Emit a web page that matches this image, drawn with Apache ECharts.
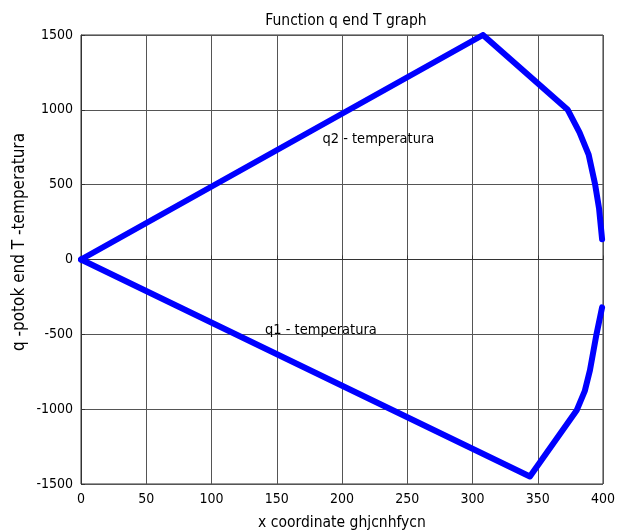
<!DOCTYPE html>
<html>
<head>
<meta charset="utf-8">
<script src="https://cdn.jsdelivr.net/npm/echarts@6/dist/echarts.min.js"></script>
<style>html,body{margin:0;padding:0;background:#fff;}#c{width:628px;height:531px;}</style>
</head>
<body>
<div id="c"></div>
<script>
// Data
var q2X = [0, 308, 373, 382, 389, 394, 397, 399.3];
var q2Y = [0, 1500, 1000, 850, 700, 500, 340, 135];
var q1X = [0, 344, 380, 386, 390, 395, 399.3];
var q1Y = [0, -1450, -1005, -880, -740, -500, -320];
var xTicks = [0, 50, 100, 150, 200, 250, 300, 350, 400];
var yTicks = [-1500, -1000, -500, 0, 500, 1000, 1500];
var noteText = ['q2 - temperatura', 'q1 - temperatura'];
var noteX = [185, 141];
var noteY = [805, -473];

function pairs(xs, ys) { return xs.map(function (x, i) { return [x, ys[i]]; }); }

var narrow = '"Liberation Sans Narrow", "Arial Narrow", "DejaVu Sans Condensed", sans-serif';
var chart = echarts.init(document.getElementById('c'), null, {renderer: 'canvas'});
chart.setOption({
  animation: false,
  backgroundColor: '#fff',
  title: {
    text: 'Function q end T graph', left: 341, top: 8, textAlign: 'center',
    textStyle: {fontFamily: narrow, fontSize: 15.5, fontWeight: 'normal', color: '#000'}
  },
  grid: {left: 81, right: 25, top: 35, bottom: 47, show: true, borderColor: '#333', borderWidth: 1,
    containLabel: false, outerBoundsMode: 'none'},
  xAxis: {
    type: 'value', min: xTicks[0], max: xTicks[xTicks.length - 1], interval: 50,
    name: 'x coordinate ghjcnhfycn', nameLocation: 'middle', nameGap: 31,
    nameTextStyle: {fontFamily: narrow, fontSize: 15.5, color: '#000'},
    axisLine: {show: true, lineStyle: {color: '#333'}},
    axisTick: {show: true, inside: true, length: 4, lineStyle: {color: '#333'}},
    axisLabel: {fontFamily: narrow, fontSize: 14, color: '#000', margin: 8},
    splitLine: {show: true, lineStyle: {color: '#555', width: 1}}
  },
  yAxis: {
    type: 'value', min: yTicks[0], max: yTicks[yTicks.length - 1], interval: 500,
    axisLine: {show: true, lineStyle: {color: '#333'}},
    axisTick: {show: true, inside: true, length: 4, lineStyle: {color: '#333'}},
    axisLabel: {fontFamily: narrow, fontSize: 14, color: '#000', margin: 8,
      formatter: function (v) { return String(v); }},
    splitLine: {show: true, lineStyle: {color: '#555', width: 1}}
  },
  series: [
    {type: 'line', data: pairs(q2X, q2Y), symbol: 'none', lineStyle: {color: '#0000ff', width: 6, join: 'round', cap: 'round'}, z: 3},
    {type: 'line', data: pairs(q1X, q1Y), symbol: 'none', lineStyle: {color: '#0000ff', width: 6, join: 'round', cap: 'round'}, z: 3}
  ]
});
var g = [{
  type: 'text', left: 11, top: 133, rotation: Math.PI / 2,
  style: {text: 'q -potok end T -temperatura', font: '17px ' + narrow, fill: '#000'}
}];
noteText.forEach(function (t, i) {
  var p = chart.convertToPixel({gridIndex: 0}, [noteX[i], noteY[i]]);
  g.push({type: 'text', x: p[0], y: p[1], z: 10,
    style: {text: t, font: '14.5px ' + narrow, fill: '#000', textVerticalAlign: 'middle', verticalAlign: 'middle'}});
});
chart.setOption({graphic: g});
</script>
</body>
</html>
